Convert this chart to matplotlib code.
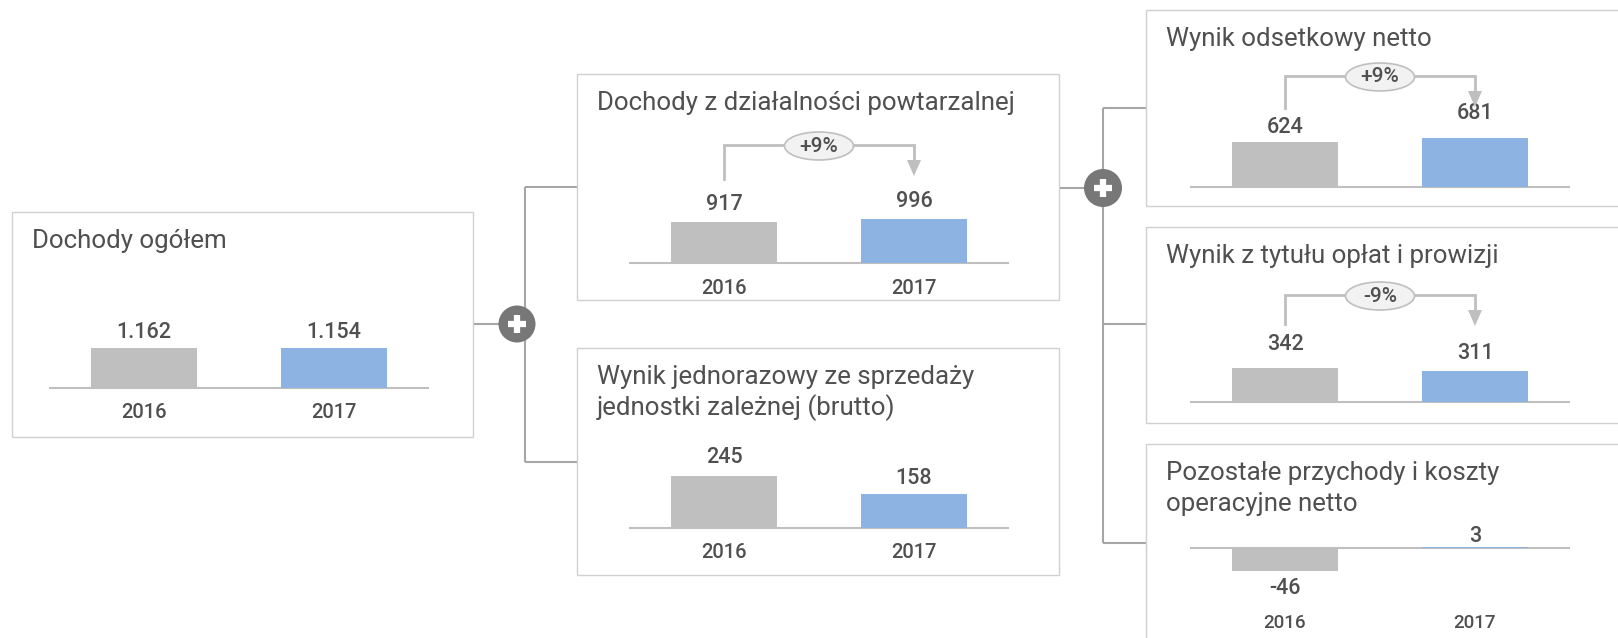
import matplotlib
matplotlib.use("Agg")
import statistics
import matplotlib.pyplot as plt
from matplotlib.patches import Rectangle, Circle, Ellipse, Polygon
from matplotlib.transforms import blended_transform_factory as blend

plt.rcParams['font.family'] = ['Roboto', 'DejaVu Sans']

# ---------------- data ----------------
years = ['2016', '2017']
titles = [
    'Dochody ogółem',
    'Dochody z działalności powtarzalnej',
    'Wynik jednorazowy ze sprzedaży\njednostki zależnej (brutto)',
    'Wynik odsetkowy netto',
    'Wynik z tytułu opłat i prowizji',
    'Pozostałe przychody i koszty\noperacyjne netto',
]
total_income = [1162, 1154]
recurring_income = [917, 996]
one_off_gain = [245, 158]
net_interest = [624, 681]
fees_commissions = [342, 311]
other_operating = [-46, 3]
series = [total_income, recurring_income, one_off_gain,
          net_interest, fees_commissions, other_operating]

# ---------------- style ----------------
GRAY = '#BFBFBF'
BLUE = '#8DB3E2'
BASE = '#BFBFBF'
BORDER = '#D0D0D0'
CONN = '#A6A6A6'
PLUS = '#777777'
ARROW = '#BFBFBF'
TXT = '#505050'

W, H = 1618, 638
fig = plt.figure(figsize=(W / 100, H / 100), dpi=100)
ax0 = fig.add_axes([0, 0, 1, 1])
ax0.set_xlim(0, W)
ax0.set_ylim(H, 0)
ax0.axis('off')

# layout in pixels (title_w = measured first-line width of the title in the reference,
# label_off = distance in px of each value label centre from the bar end)
layout = [
    dict(box=(12, 212, 473, 437), base_x=49, base_y=388, scale=0.0344, years=25, arrow=None,
         title_w=193, label_off=(16, 16)),
    dict(box=(577, 74, 1059, 300), base_x=629, base_y=263, scale=0.0445, years=25, arrow=(145, 179, 176),
         title_w=419, label_off=(18, 17)),
    dict(box=(577, 348, 1059, 575), base_x=629, base_y=528, scale=0.213, years=25, arrow=None,
         title_w=381, label_off=(18, 16)),
    dict(box=(1146, 10, 1650, 206), base_x=1190, base_y=187, scale=0.0721, years=None, arrow=(76, 108, 107),
         title_w=268, label_off=(15, 24)),
    dict(box=(1146, 227, 1650, 423), base_x=1190, base_y=402, scale=0.0996, years=None, arrow=(295, 324, 326),
         title_w=333, label_off=(23, 18)),
    dict(box=(1146, 444, 1650, 700), base_x=1190, base_y=548, scale=0.5, years=75, arrow=None,
         title_w=331, label_off=(17, 10)),
]

TITLE_FS = 17
VAL_FS = 15.5
YEAR_FS = 14.5
PCT_FS = 15
WEIGHT = 'medium'

# connectors
conn_kw = dict(color=CONN, lw=1.5, zorder=1, solid_capstyle='butt')
ax0.plot([473, 525], [324, 324], **conn_kw)
ax0.plot([525, 525], [187, 462], **conn_kw)
ax0.plot([525, 577], [187, 187], **conn_kw)
ax0.plot([525, 577], [462, 462], **conn_kw)
ax0.plot([1059, 1103], [188, 188], **conn_kw)
ax0.plot([1103, 1103], [108, 543], **conn_kw)
for yy in (108, 324, 543):
    ax0.plot([1103, 1146], [yy, yy], **conn_kw)

for (cx, cy, r) in [(517, 324, 18.5), (1103, 188, 19)]:
    ax0.add_patch(Circle((cx, cy), r, fc=PLUS, ec='none', zorder=3))
    ax0.plot([cx - 9, cx + 9], [cy, cy], color='white', lw=4.5, solid_capstyle='butt', zorder=4)
    ax0.plot([cx, cx], [cy - 9, cy + 9], color='white', lw=4.5, solid_capstyle='butt', zorder=4)


def fmt(v):
    return f"{v:,}".replace(',', '.')


title_texts = []
first_lines = []
for spec, vals, title in zip(layout, series, titles):
    x0, y0, x1, y1 = spec['box']
    ax0.add_patch(Rectangle((x0, y0), x1 - x0, y1 - y0, fc='white', ec=BORDER, lw=1.0, zorder=2))
    for k, line in enumerate(title.split('\n')):
        t = ax0.text(x0 + 20, y0 + 29 + 31 * k, line, ha='left', va='center',
                     fontsize=TITLE_FS, color=TXT, zorder=5)
        title_texts.append(t)
        if k == 0:
            first_lines.append((t, spec['title_w']))

    bx, by, s = spec['base_x'], spec['base_y'], spec['scale']
    up, down = 70, 40
    ax = fig.add_axes([bx / W, 1 - (by + down) / H, 380 / W, (up + down) / H])
    ax.set_facecolor('none')
    ax.set_xlim(-0.5, 1.5)
    ax.set_ylim(-down / s, up / s)
    ax.axis('off')
    ax.axhline(0, color=BASE, lw=1.5, zorder=1)
    ax.bar([0, 1], vals, width=0.558, color=[GRAY, BLUE], zorder=2)
    for i, v in enumerate(vals):
        off = spec['label_off'][i]
        ax.annotate(fmt(v), xy=(i, v), xytext=(0, off if v >= 0 else -off),
                    textcoords='offset pixels', ha='center', va='center',
                    fontsize=VAL_FS, fontweight=WEIGHT, color=TXT, annotation_clip=False)
        if spec['years'] is not None:
            ax.annotate(years[i], xy=(i, 0), xytext=(0, -spec['years']),
                        textcoords='offset pixels', ha='center', va='center',
                        fontsize=YEAR_FS if spec['years'] < 50 else YEAR_FS - 1,
                        fontweight=WEIGHT, color=TXT, annotation_clip=False)

    if spec['arrow'] is not None:
        h, start, tip = spec['arrow']
        tr = blend(ax.transData, ax0.transData)
        ax.plot([0, 0, 1, 1], [start, h, h, tip - 14], transform=tr, color=ARROW,
                lw=2, clip_on=False, zorder=3, solid_joinstyle='miter')
        ax.add_patch(Polygon([(1 - 7 / 190, tip - 16), (1 + 7 / 190, tip - 16), (1, tip)],
                             closed=True, transform=tr, fc=ARROW, ec='none',
                             clip_on=False, zorder=3))
        ax.add_patch(Ellipse((0.5, h + 1), width=69 / 190, height=28, transform=tr,
                             fc='#F2F2F2', ec=ARROW, lw=1.2, clip_on=False, zorder=4))
        pct = round((vals[1] / vals[0] - 1) * 100)
        ax.text(0.5, h + 1, f"{pct:+d}%", transform=tr, ha='center', va='center',
                fontsize=PCT_FS, fontweight=WEIGHT, color=TXT, zorder=5, clip_on=False)

# fit the common title size to the widths measured in the reference
fig.canvas.draw()
renderer = fig.canvas.get_renderer()
ratios = [target / t.get_window_extent(renderer).width for t, target in first_lines]
title_fs = TITLE_FS * statistics.median(ratios)
for t in title_texts:
    t.set_fontsize(title_fs)

fig.savefig('out.png', dpi=100)
